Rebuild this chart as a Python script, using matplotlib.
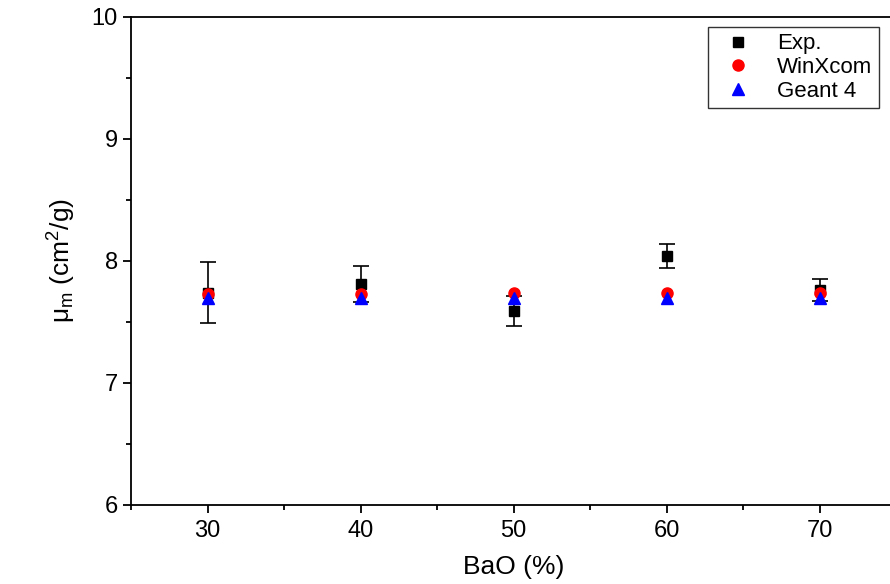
import matplotlib
matplotlib.use("Agg")
import matplotlib.pyplot as plt
from matplotlib.ticker import MultipleLocator

plt.rcParams['font.family'] = ['Liberation Sans', 'DejaVu Sans']
plt.rcParams['mathtext.fontset'] = 'custom'
plt.rcParams['mathtext.rm'] = 'Liberation Sans'
plt.rcParams['mathtext.it'] = 'Liberation Sans'

# --- data ---
bao = [30, 40, 50, 60, 70]
exp_vals = [7.74, 7.81, 7.59, 8.04, 7.76]
exp_err = [0.25, 0.15, 0.12, 0.10, 0.09]
winxcom = [7.73, 7.73, 7.74, 7.74, 7.74]
geant4 = [7.70, 7.70, 7.70, 7.70, 7.70]

fig = plt.figure(figsize=(8.9, 5.84), dpi=100)
ax = fig.add_axes([0.1472, 0.1353, 0.8596, 0.8356])

ax.errorbar(bao, exp_vals, yerr=exp_err, fmt='none', ecolor='black',
            elinewidth=1.2, capsize=6, capthick=1.2, zorder=2)
h1, = ax.plot(bao, exp_vals, 's', color='black', ms=7, label='Exp.', zorder=3)
h2, = ax.plot(bao, winxcom, 'o', color='red', ms=8, label='WinXcom', zorder=4)
h3, = ax.plot(bao, geant4, '^', color='blue', ms=8, label='Geant 4', zorder=5)

ax.set_xlim(25, 75)
ax.set_ylim(6, 10)
ax.xaxis.set_major_locator(MultipleLocator(10))
ax.xaxis.set_minor_locator(MultipleLocator(5))
ax.yaxis.set_major_locator(MultipleLocator(1))
ax.yaxis.set_minor_locator(MultipleLocator(0.5))
ax.tick_params(which='major', direction='out', length=6, width=1.3, labelsize=17)
ax.tick_params(which='minor', direction='out', length=3.5, width=1.3)
ax.tick_params(axis='x', pad=5)
for s in ax.spines.values():
    s.set_linewidth(1.3)

ax.set_xlabel('BaO (%)', fontsize=19, labelpad=9)
ax.set_ylabel(r'$\mu_m$ (cm$^2$/g)', fontsize=19, labelpad=10)

leg = ax.legend(handles=[h1, h2, h3], loc='upper left',
                bbox_to_anchor=(0.754, 0.98), fontsize=16,
                frameon=True, fancybox=False, edgecolor='black',
                handletextpad=0.7, borderpad=0.3, labelspacing=0.12,
                handlelength=2.1, borderaxespad=0)
leg.get_frame().set_linewidth(1.0)

fig.savefig('out.png', dpi=100)
